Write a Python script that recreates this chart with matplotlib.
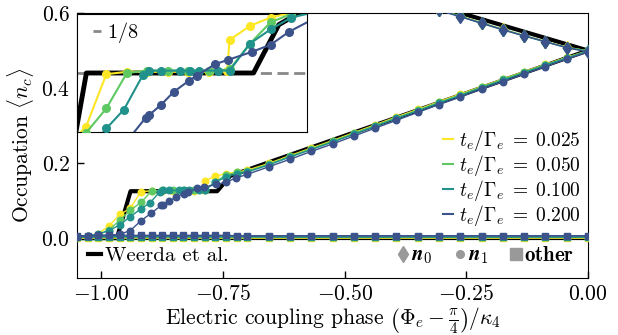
import matplotlib
matplotlib.use("Agg")
import matplotlib.pyplot as plt
from matplotlib.lines import Line2D
from matplotlib.ticker import FuncFormatter

plt.rcParams['font.family'] = 'serif'
plt.rcParams['font.serif'] = ['cmr10']
plt.rcParams['mathtext.fontset'] = 'cm'
plt.rcParams['axes.formatter.use_mathtext'] = True
plt.rcParams['font.size'] = 15.5

# coupling strengths and their colours (viridis)
t_vals = ['0.025', '0.050', '0.100', '0.200']
colors = ['#fde725', '#5ec962', '#21918c', '#3b528b']

# shared coarse grid for the linear part
x_coarse = [-0.7, -0.65625, -0.6125, -0.56875, -0.525, -0.48125, -0.4375, -0.39375, -0.35,
            -0.30625, -0.2625, -0.21875, -0.175, -0.13125, -0.0875, -0.04375, 0.0]

# n1 occupation, refined grid around the 1/8 plateau
x_fine_025 = [-1.05, -1.028125, -1.00625, -0.984375, -0.9625, -0.940625, -0.91875, -0.896875, -0.875,
              -0.853125, -0.83125, -0.809375, -0.79, -0.7875, -0.765625, -0.74375, -0.721875]
n1_fine_025 = [0.004, 0.006, 0.012, 0.032, 0.063, 0.079, 0.124, 0.126, 0.126,
               0.126, 0.126, 0.126, 0.127, 0.153, 0.165, 0.172, 0.176]
x_fine_050 = [-1.05, -1.028125, -1.00625, -0.984375, -0.9625, -0.940625, -0.91875, -0.896875, -0.875,
              -0.853125, -0.83125, -0.809375, -0.7875, -0.765625, -0.74375, -0.721875]
n1_fine_050 = [0.003, 0.005, 0.009, 0.022, 0.047, 0.074, 0.095, 0.125, 0.127,
               0.127, 0.127, 0.127, 0.128, 0.150, 0.168, 0.175]
x_fine_100 = [-1.05, -1.028125, -1.00625, -0.984375, -0.9625, -0.940625, -0.91875, -0.9, -0.88, -0.873,
              -0.86, -0.84, -0.83, -0.82, -0.80, -0.7875, -0.765625, -0.74375, -0.721875]
n1_fine_100 = [0.003, 0.006, 0.011, 0.020, 0.035, 0.057, 0.078, 0.094, 0.123, 0.127,
               0.127, 0.127, 0.127, 0.127, 0.127, 0.127, 0.150, 0.162, 0.172]
x_fine_200 = [-1.05, -1.028125, -1.00625, -0.984375, -0.9625, -0.940625, -0.91875, -0.898, -0.877, -0.8737,
              -0.8605, -0.847, -0.8307, -0.8225, -0.803, -0.7896, -0.7634, -0.7437, -0.724]
n1_fine_200 = [0.004, 0.006, 0.007, 0.008, 0.010, 0.020, 0.046, 0.066, 0.087, 0.089,
               0.098, 0.109, 0.1185, 0.1227, 0.1325, 0.136, 0.143, 0.149, 0.160]

# n1 occupation on the coarse grid
n1_coarse_025 = [0.181, 0.199, 0.220, 0.240, 0.260, 0.281, 0.302, 0.323, 0.343,
                 0.364, 0.384, 0.404, 0.424, 0.444, 0.463, 0.482, 0.499]
n1_coarse_050 = [0.178, 0.197, 0.218, 0.238, 0.258, 0.279, 0.300, 0.321, 0.341,
                 0.362, 0.382, 0.403, 0.423, 0.443, 0.462, 0.481, 0.499]
n1_coarse_100 = [0.176, 0.195, 0.216, 0.236, 0.256, 0.277, 0.298, 0.319, 0.339,
                 0.360, 0.380, 0.401, 0.421, 0.441, 0.461, 0.480, 0.498]
n1_coarse_200 = [0.170, 0.190, 0.210, 0.231, 0.251, 0.272, 0.293, 0.314, 0.335,
                 0.356, 0.376, 0.397, 0.417, 0.437, 0.457, 0.477, 0.496]

# n0 occupation (only the part below 0.6 is visible)
x_n0 = [-0.39375, -0.35, -0.30625, -0.2625, -0.21875, -0.175, -0.13125, -0.0875, -0.04375, 0.0]
n0_025 = [0.645, 0.627, 0.609, 0.592, 0.574, 0.557, 0.540, 0.524, 0.509, 0.499]
n0_050 = [0.645, 0.627, 0.609, 0.591, 0.574, 0.556, 0.540, 0.524, 0.508, 0.499]
n0_100 = [0.644, 0.626, 0.608, 0.591, 0.573, 0.556, 0.539, 0.523, 0.508, 0.498]
n0_200 = [0.643, 0.625, 0.607, 0.590, 0.5725, 0.555, 0.539, 0.5235, 0.5075, 0.496]

# remaining occupation
x_grid = [-1.05, -1.028125, -1.00625, -0.984375, -0.9625, -0.940625, -0.91875, -0.896875, -0.875,
          -0.853125, -0.83125, -0.809375, -0.7875, -0.765625, -0.74375, -0.721875] + x_coarse
other_025 = [0.001, 0.001, 0.001, 0.001, 0.001, 0.001, 0.001, 0.001, 0.001, 0.001, 0.001,
             0.001, 0.001, 0.001, 0.001, 0.001, 0.001, 0.001, 0.001, 0.001, 0.001, 0.001,
             0.001, 0.001, 0.001, 0.001, 0.001, 0.001, 0.001, 0.001, 0.001, 0.001, 0.001]
other_050 = [0.002, 0.002, 0.002, 0.002, 0.002, 0.002, 0.002, 0.002, 0.002, 0.002, 0.002,
             0.002, 0.002, 0.002, 0.002, 0.002, 0.002, 0.002, 0.002, 0.002, 0.002, 0.002,
             0.002, 0.002, 0.002, 0.002, 0.002, 0.002, 0.002, 0.002, 0.002, 0.002, 0.002]
other_100 = [0.003, 0.003, 0.003, 0.004, 0.004, 0.004, 0.004, 0.004, 0.004, 0.004, 0.004,
             0.004, 0.004, 0.004, 0.004, 0.004, 0.004, 0.003, 0.003, 0.003, 0.003, 0.003,
             0.003, 0.003, 0.003, 0.003, 0.003, 0.003, 0.003, 0.003, 0.003, 0.003, 0.003]
other_200 = [0.006, 0.006, 0.007, 0.007, 0.007, 0.007, 0.007, 0.007, 0.007, 0.007, 0.007,
             0.007, 0.007, 0.007, 0.007, 0.006, 0.006, 0.006, 0.006, 0.006, 0.006, 0.006,
             0.006, 0.006, 0.006, 0.006, 0.006, 0.006, 0.006, 0.006, 0.006, 0.006, 0.006]

# Weerda et al. reference curves
weerda_n1_x = [-1.05, -0.968, -0.94, -0.762, -0.735, 0.0]
weerda_n1 = [0.0, 0.0, 0.125, 0.125, 0.166, 0.5]
weerda_n0_x = [-0.45, 0.0]
weerda_n0 = [0.672, 0.5]
weerda_other_x = [-1.05, 0.0]
weerda_other = [0.0, 0.0]

x_fine = [x_fine_025, x_fine_050, x_fine_100, x_fine_200]
n1_fine = [n1_fine_025, n1_fine_050, n1_fine_100, n1_fine_200]
n1_coarse = [n1_coarse_025, n1_coarse_050, n1_coarse_100, n1_coarse_200]
n0_all = [n0_025, n0_050, n0_100, n0_200]
other_all = [other_025, other_050, other_100, other_200]

W, H = 618, 335
fig = plt.figure(figsize=(W / 100, H / 100), dpi=100)
ax = fig.add_axes([77 / W, 1 - 277.5 / H, 511 / W, 264.5 / H])
ax_in = fig.add_axes([77 / W, 1 - 132 / H, 230 / W, 118 / H])

# main panel
ax.plot(weerda_n1_x, weerda_n1, color='k', lw=3, zorder=2)
ax.plot(weerda_n0_x, weerda_n0, color='k', lw=3, zorder=2)
ax.plot(weerda_other_x, weerda_other, color='k', lw=3, zorder=2)
for i, c in enumerate(colors):
    ax.plot(x_fine[i] + x_coarse, n1_fine[i] + n1_coarse[i], '-o', color=c, lw=1, ms=4.7, zorder=3)
    ax.plot(x_n0, n0_all[i], '-d', color=c, lw=1, ms=6.5, zorder=3)
    ax.plot(x_grid, other_all[i], '-s', color=c, lw=1.2, ms=4.3, zorder=3)

ax.set_xlim(-1.05, 0)
ax.set_ylim(-0.105, 0.6)
ax.set_xticks([-1.0, -0.75, -0.5, -0.25, 0.0])
ax.set_yticks([0.0, 0.2, 0.4, 0.6])
ax.xaxis.set_major_formatter(FuncFormatter(lambda v, p: f'${v:.2f}$'))
ax.yaxis.set_major_formatter(FuncFormatter(lambda v, p: f'${v:.1f}$'))
ax.tick_params(direction='in', length=5, width=1, labelsize=15.5, pad=5)
ax.set_xlabel(r'Electric coupling phase $\left(\Phi_e - \frac{\pi}{4}\right)/\kappa_4$',
              fontsize=15.5, labelpad=1)
ax.set_ylabel(r'Occupation $\langle n_c \rangle$', fontsize=15.5)

t_handles = [Line2D([], [], color=c, lw=1.5) for c in colors]
leg1 = ax.legend(t_handles, [rf'$t_e/\Gamma_e\;=\;{t}$' for t in t_vals],
                 loc='center right', bbox_to_anchor=(0.985, 0.376), frameon=False,
                 handlelength=0.5, handletextpad=0.3, labelspacing=0.0, fontsize=14,
                 borderaxespad=0, borderpad=0)
ax.add_artist(leg1)

leg2 = ax.legend([Line2D([], [], color='k', lw=3)], ['Weerda et al.'], loc='center left',
                 bbox_to_anchor=(0.022, 0.081), frameon=False, handlelength=0.6,
                 handletextpad=0.2, fontsize=15, borderaxespad=0, borderpad=0)
ax.add_artist(leg2)

mk_handles = [Line2D([], [], color='#999999', marker=m, ls='none', ms=ms)
              for m, ms in [('d', 8), ('o', 5.5), ('s', 8)]]
ax.legend(mk_handles, [r'$\mathbfit{n}_\mathbf{0}$', r'$\mathbfit{n}_\mathbf{1}$', r'$\mathbf{other}$'],
          loc='center right', bbox_to_anchor=(0.973, 0.081), ncol=3, frameon=False,
          handlelength=0.6, handletextpad=0.1, columnspacing=1.0, fontsize=15,
          borderaxespad=0, borderpad=0)

# zoom on the 1/8 plateau
plateau = ax_in.axhline(1 / 8, color='#888888', ls='--', lw=2, dashes=(4, 2), zorder=1, label='$1/8$')
ax_in.plot(weerda_n1_x, weerda_n1, color='k', lw=3.5, zorder=2)
for i, c in enumerate(colors):
    ax_in.plot(x_fine[i] + x_coarse, n1_fine[i] + n1_coarse[i], '-o', color=c, lw=1.5, ms=5.5, zorder=3)
ax_in.set_xlim(-0.95, -0.705)
ax_in.set_ylim(0.075, 0.175)
ax_in.set_xticks([])
ax_in.set_yticks([])
ax_in.legend(handles=[plateau], loc='center left', bbox_to_anchor=(0.07, 0.84), frameon=False,
             handlelength=0.4, handletextpad=0.3, fontsize=14.5, borderaxespad=0, borderpad=0)

fig.savefig('out.png', dpi=100)
